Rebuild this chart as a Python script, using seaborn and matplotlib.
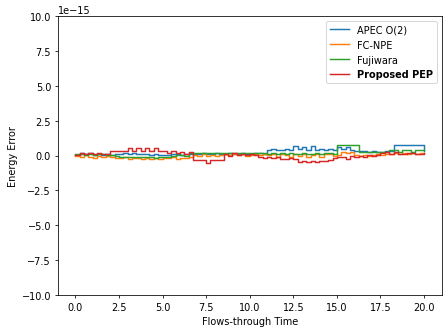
import numpy as np
import pandas as pd
import seaborn as sns
import matplotlib
matplotlib.use("Agg")
import matplotlib.pyplot as plt

# zaman ekseni (flows-through time), 0.25 aralikla
t = np.arange(0, 20.001, 0.25)

# enerji hatasi, 1e-16 biriminde
apec = [
    0.5, 1.5, 0.8, 2.0, 0.6, 1.2, 0.5, 0.9,
    0.7, 1.0, 1.4, 1.5, 1.3, 1.5, 1.4, 1.3,
    0.8, 0.5, 1.0, 0.3, 0.6, 0.2, 0.8, 1.0,
    0.5, 1.2, 0.8, 1.4, 1.2, 1.5, 1.3, 1.4,
    1.5, 1.2, 1.4, 1.6, 1.3, 1.4, 1.5, 1.2,
    1.4, 1.6, 1.5, 1.4, 4.3, 4.4, 4.2, 4.3,
    4.5, 4.3, 6.5, 4.4, 6.3, 4.2, 6.6, 4.3,
    4.4, 4.3, 4.5, 4.3, 6.0, 4.4, 6.2, 4.3,
    3.5, 3.2, 3.6, 2.5, 3.0, 2.8, 2.6, 3.0,
    3.2, 7.4, 7.5, 7.3, 7.4, 7.4, 7.5, 7.4, 3.0,
]
fcnpe = [
    -0.5, -1.2, 0.2, -0.8, -1.5, -0.4, -1.0, -0.6,
    -1.2, -1.5, -2.0, -1.4, -2.5, -1.6, -2.0, -2.8,
    -1.8, -2.2, -1.5, -2.6, -1.9, -2.0, -1.4, -2.4,
    -1.6, -2.0, -1.0, 0.2, -0.5, 0.8, 0.0, 0.6,
    -0.3, 0.5, 0.9, 0.2, 1.0, 0.4, 0.8, 0.0,
    0.6, 1.0, 0.5, 0.8, 0.4, 1.0, -0.8, 0.9,
    0.2, -0.9, 1.0, -0.6, 0.8, -1.0, 0.5, 1.0,
    -0.7, 0.8, 1.1, -0.5, 0.6, 2.3, 1.8, 2.2,
    0.5, -0.3, 0.4, -0.2, 0.6, 1.0, 0.2, 1.2,
    0.8, 1.5, 0.9, 1.6, 1.2, 1.8, 1.4, 2.0, 2.0,
]
fujiwara = [
    0.8, 1.0, 0.4, 1.2, 0.6, 0.8, 1.0, 0.5,
    0.4, -0.5, -0.8, -1.0, -0.7, -1.2, -0.9, -1.0,
    -1.3, -1.0, -2.0, -0.8, -1.1, -1.0, -0.6, 0.2,
    0.5, -0.5, 1.6, 1.8, 1.5, 2.0, 1.7, 1.9,
    1.8, 2.0, 1.6, 1.9, 1.7, 2.0, 1.8, 1.6,
    1.9, 1.7, 1.6, 1.5, 1.4, 1.5, 1.4, 1.5,
    1.4, 1.5, 1.3, 1.4, 1.5, 1.4, 1.3, 1.5,
    1.4, 1.6, 1.5, 1.4, 7.4, 7.5, 7.3, 7.4,
    7.4, 2.6, 2.7, 2.5, 2.6, 2.7, 2.6, 2.8,
    3.8, 3.9, 2.8, 3.8, 3.9, 2.7, 3.8, 3.9, 3.8,
]
pep = [
    0.5, 1.5, 1.0, 1.6, 1.2, 1.6, 0.8, 1.4,
    3.5, 3.6, 3.4, 3.6, 5.6, 3.5, 5.6, 3.5,
    5.6, 3.6, 5.5, 3.4, 3.5, 2.0, 3.0, 1.5,
    2.5, 1.2, 2.8, -3.4, -3.3, -3.5, -5.0, -3.4,
    -3.3, -3.5, 1.2, 0.0, 1.5, 0.3, 1.4, 0.5,
    1.2, 0.4, -1.4, -1.5, -1.3, -1.5, -1.4, -2.2,
    -2.2, -2.0, -2.3, -4.3, -4.0, -4.6, -3.8, -4.4,
    -3.6, -4.0, -3.2, -2.0, -1.0, -0.7, -2.5, -0.5,
    -0.7, -0.4, -0.8, 0.3, -0.5, 0.5, 1.5, 2.5,
    0.8, 2.2, 1.4, 1.0, 1.5, 2.0, 1.2, 1.4, 1.5,
]

labels = ["APEC O(2)", "FC-NPE", "Fujiwara", "Proposed PEP"]
colors = ["#1f77b4", "#ff7f0e", "#2ca02c", "#d62728"]
series = [apec, fcnpe, fujiwara, pep]

fig, ax = plt.subplots(figsize=(6.41, 4.77), dpi=70)

for lab, col, vals in zip(labels, colors, series):
    df = pd.DataFrame({"t": t, "err": np.array(vals) * 1e-16})
    sns.lineplot(data=df, x="t", y="err", color=col, label=lab,
                 linewidth=1.5, estimator=None, drawstyle="steps-post", ax=ax)

ax.set_ylim(-1e-14, 1e-14)
ax.set_xlabel("Flows-through Time")
ax.set_ylabel("Energy Error")

leg = ax.legend(loc="upper right")
leg.get_texts()[3].set_fontweight("bold")

plt.subplots_adjust(left=0.129, right=0.984, top=0.949, bottom=0.114)
plt.savefig("out.png", dpi=70)
